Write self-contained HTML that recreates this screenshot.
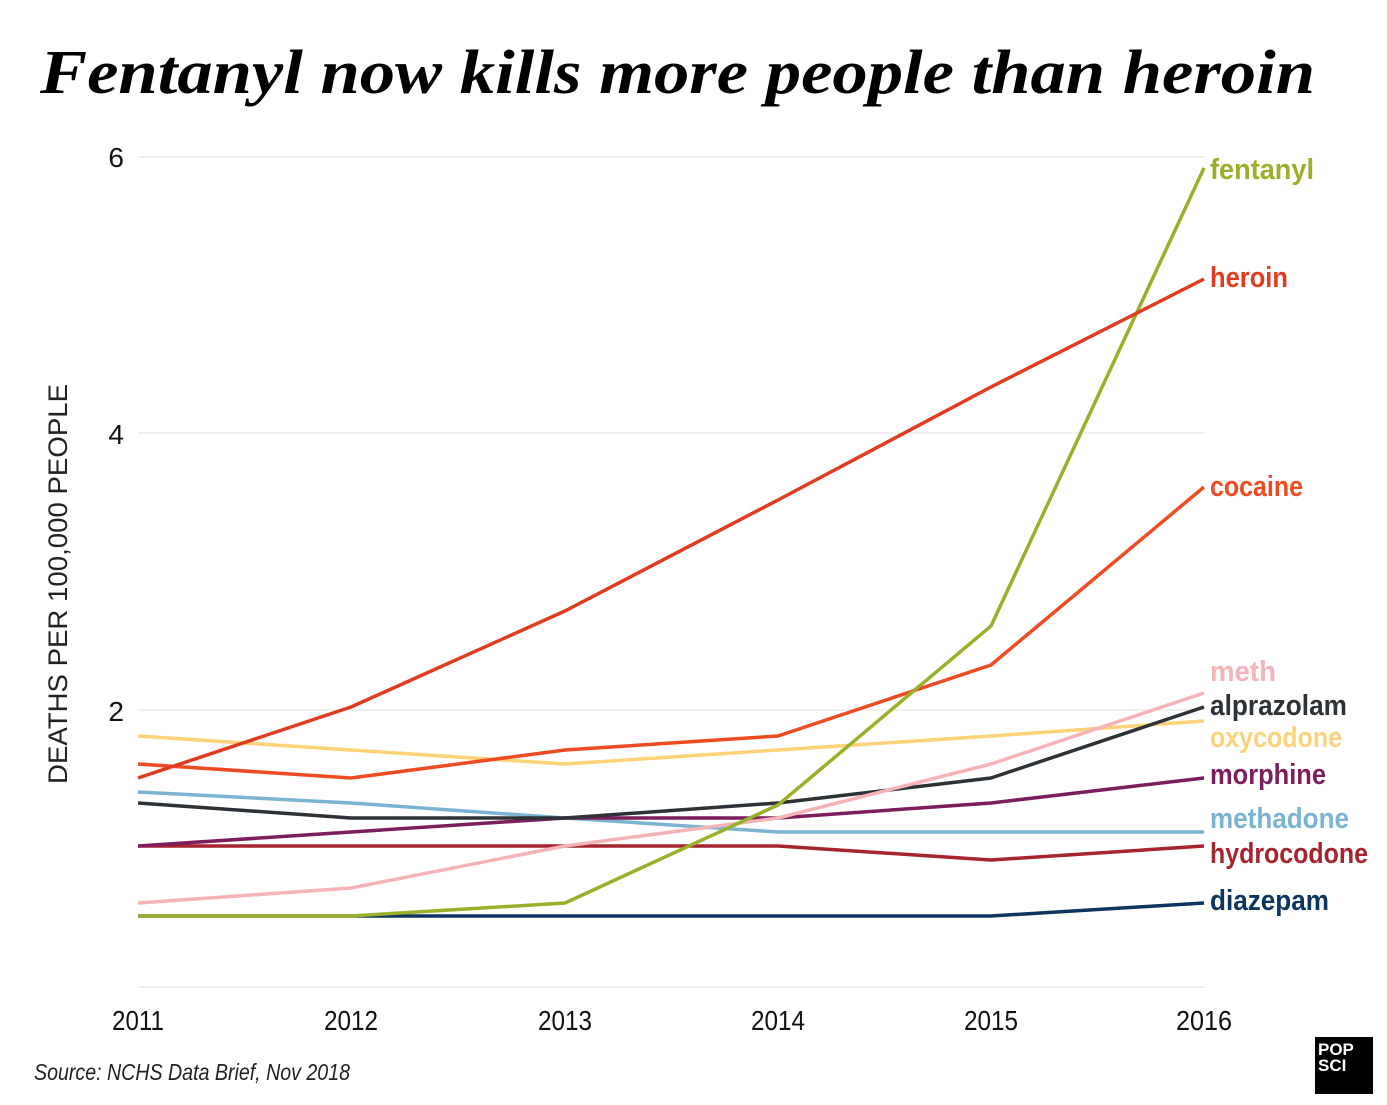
<!DOCTYPE html>
<html><head><meta charset="utf-8"><style>
html,body{margin:0;padding:0;background:#fff;}
svg{display:block;}
</style></head><body>
<svg width="1387" height="1105" viewBox="0 0 1387 1105" xmlns="http://www.w3.org/2000/svg">
<rect width="1387" height="1105" fill="#fff"/>
<text x="40" y="93" font-family="Liberation Serif, serif" font-weight="bold" font-style="italic" font-size="62" textLength="1275" lengthAdjust="spacingAndGlyphs" fill="#000">Fentanyl now kills more people than heroin</text>
<g stroke="#e2e2e2" stroke-width="1">
<line x1="138" y1="157" x2="1205" y2="157"/>
<line x1="138" y1="433" x2="1205" y2="433"/>
<line x1="138" y1="710" x2="1205" y2="710"/>
<line x1="138" y1="987" x2="1205" y2="987"/>
</g>
<g font-family="Liberation Sans, sans-serif" font-size="28" fill="#111">
<text x="124" y="167" text-anchor="end">6</text>
<text x="124" y="444" text-anchor="end">4</text>
<text x="124" y="721" text-anchor="end">2</text>
</g>
<g font-family="Liberation Sans, sans-serif" font-size="28" fill="#111" text-anchor="middle">
<text x="138" y="1030" textLength="52" lengthAdjust="spacingAndGlyphs">2011</text>
<text x="351" y="1030" textLength="54" lengthAdjust="spacingAndGlyphs">2012</text>
<text x="565" y="1030" textLength="54" lengthAdjust="spacingAndGlyphs">2013</text>
<text x="778" y="1030" textLength="54" lengthAdjust="spacingAndGlyphs">2014</text>
<text x="991" y="1030" textLength="54" lengthAdjust="spacingAndGlyphs">2015</text>
<text x="1204" y="1030" textLength="56" lengthAdjust="spacingAndGlyphs">2016</text>
</g>
<text transform="translate(67,584) rotate(-90)" text-anchor="middle" font-family="Liberation Sans, sans-serif" font-size="27" fill="#222" textLength="400" lengthAdjust="spacingAndGlyphs">DEATHS PER 100,000 PEOPLE</text>
<g fill="none" stroke-width="3.5" stroke-linejoin="round">
<polyline stroke="#0c3560" points="138,916 351,916 565,916 778,916 991,916 1204,903"/>
<polyline stroke="#a5242d" points="138,846 351,846 565,846 778,846 991,860 1204,846"/>
<polyline stroke="#7ab4d2" points="138,792 351,803 565,818 778,832 991,832 1204,832"/>
<polyline stroke="#7c1e5e" points="138,846 351,832 565,818 778,818 991,803 1204,778"/>
<polyline stroke="#fdd37a" points="138,736 351,750 565,764 778,750 991,736 1204,721"/>
<polyline stroke="#2d3236" points="138,803 351,818 565,818 778,803 991,778 1204,707"/>
<polyline stroke="#f5b3b8" points="138,903 351,888 565,846 778,818 991,764 1204,693"/>
<polyline stroke="#ee4b22" points="138,764 351,778 565,750 778,736 991,665 1204,487"/>
<polyline stroke="#9bb02a" points="138,916 351,916 565,903 778,805 991,626 1204,168"/>
<polyline stroke="#e03c20" points="138,778 351,707 565,611 778,500 991,387 1204,279"/>
</g>
<g font-family="Liberation Sans, sans-serif" font-weight="bold" font-size="29">
<text x="1210" y="179" fill="#9bb02a" textLength="104" lengthAdjust="spacingAndGlyphs">fentanyl</text>
<text x="1210" y="287" fill="#e03c20" textLength="78" lengthAdjust="spacingAndGlyphs">heroin</text>
<text x="1210" y="496" fill="#ee4b22" textLength="93" lengthAdjust="spacingAndGlyphs">cocaine</text>
<text x="1210" y="681" fill="#f5b3b8" textLength="66" lengthAdjust="spacingAndGlyphs">meth</text>
<text x="1210" y="715" fill="#2d3236" textLength="137" lengthAdjust="spacingAndGlyphs">alprazolam</text>
<text x="1210" y="747" fill="#fdd37a" textLength="132" lengthAdjust="spacingAndGlyphs">oxycodone</text>
<text x="1210" y="784" fill="#7c1e5e" textLength="116" lengthAdjust="spacingAndGlyphs">morphine</text>
<text x="1210" y="828" fill="#7ab4d2" textLength="139" lengthAdjust="spacingAndGlyphs">methadone</text>
<text x="1210" y="863" fill="#a5242d" textLength="158" lengthAdjust="spacingAndGlyphs">hydrocodone</text>
<text x="1210" y="910" fill="#0c3560" textLength="119" lengthAdjust="spacingAndGlyphs">diazepam</text>
</g>
<text x="34" y="1080" font-family="Liberation Sans, sans-serif" font-style="italic" font-size="23" fill="#222" textLength="316" lengthAdjust="spacingAndGlyphs">Source: NCHS Data Brief, Nov 2018</text>
<rect x="1315" y="1037" width="58" height="57" fill="#000"/>
<g font-family="Liberation Sans, sans-serif" font-weight="bold" font-size="17" fill="#fff">
<text x="1318" y="1055">POP</text>
<text x="1318" y="1071">SCI</text>
</g>
</svg>
</body></html>
